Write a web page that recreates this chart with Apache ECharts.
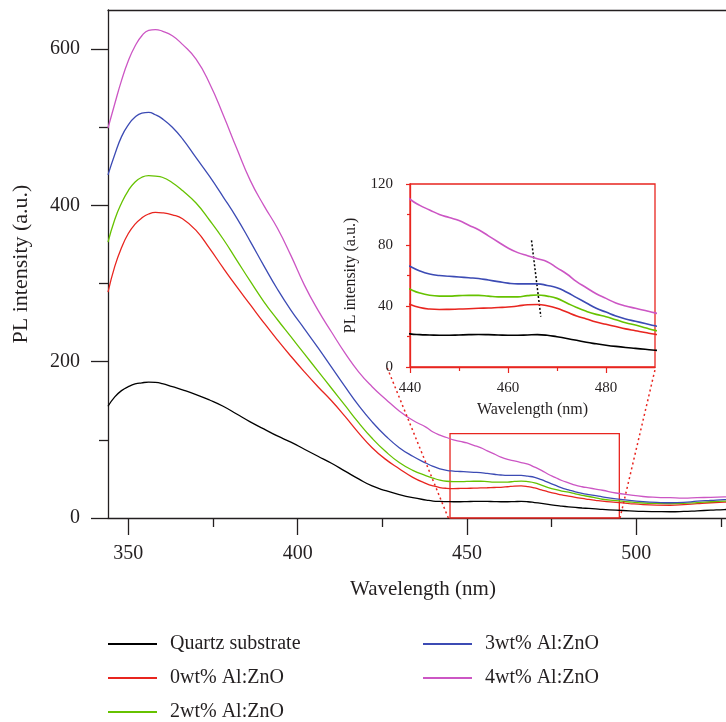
<!DOCTYPE html>
<html><head><meta charset="utf-8">
<script src="https://cdn.jsdelivr.net/npm/echarts@6/dist/echarts.min.js"></script>
<style>html,body{margin:0;padding:0;background:#fff}#c{width:726px;height:722px}</style>
</head><body><div id="c"></div>
<script>
// Wavelength (nm)
const wavelength = [344,346,348,350,352,354,356,358,360,363,366,370,374,378,382,386,390,394,398,402,406,410,414,418,422,426,430,434,438,440,442,444,446,448,450,452,454,456,458,460,462,464,466,468,470,472,474,476,478,480,482,484,486,488,490,494,498,502,506,510,514,518,522,526,530];
const quartz = [143,155,163,168,171.5,173,173.8,173.5,172,168,164,158,151,143,133,123,114,105,97,88,79,70,60,50,41,35,30,26,23,21.7,21.2,21,20.8,20.8,21,21.2,21.3,21.2,21,20.8,20.8,21,21.2,20.8,19.8,18.7,17.5,16.2,15.2,14.3,13.5,12.8,12.2,11.6,11,10,9.2,8.5,8.2,8,8.4,9.2,10,10.8,11.3];
const al0 = [289,322,346,364,376,384,389,391,390.5,388,383,368,345,320,296,273,250,228,207,187,168,150,130,109,90,75,63,52,44,41,39,38,37.7,37.8,38,38.2,38.5,38.7,39,39.3,40,40.8,41,40.2,38.5,36,33.5,31.5,29.5,28,26.5,25,23.8,22.6,21.5,20,18.5,17.2,16.5,16.3,17,18.3,19.5,20.3,21];
const al2 = [353,382,403,419,430,436,438,437.5,436,429,419,403,381,357,330,303,277,254,232,210,188,166,144,122,102,85,71,61,54,51,48.5,47,46.5,46.5,46.8,47,47,46.5,46,46,46,46.8,47.2,46.5,45,42,39,36.5,34.5,33,31,29,27.5,25.8,24,22.3,20.5,19.2,18.6,18.4,18.8,19.8,20.8,21.6,22.2];
const al3 = [439,465,488,503,513,518,519,516,511,500,485,461,437,411,384,354,323,293,266,242,218,193,168,144,123,105,90,79,70,66,63,61,60,59.5,59,58.5,58,57,56,55,54.5,54.5,54.5,53.5,52,49,45.5,42,38.5,36,33.5,31.5,30,28.5,27,24.5,22.5,21,20,19.5,20,21.5,22.5,23.5,24];
const al4 = [499,530,560,585,604,617,624,625,623,617,606,587,556,516,473,432,400,371,336,298,266,238,211,187,168,152,137,125,116,110,106,103,100,98,96,93,90,86,82,78,75,73,71,69,65,61,56,52,48,45,42,40,38.5,37,35.5,32,29.5,27.5,26.5,26,25.5,26,26.5,27,27.5];

const seriesNames = ['Quartz substrate','0wt% Al:ZnO','2wt% Al:ZnO','3wt% Al:ZnO','4wt% Al:ZnO'];
const seriesValues = [quartz, al0, al2, al3, al4];
const seriesColors = ['#000000','#e8251f','#66c200','#3c4bb4','#cc56c4'];

// main axis ticks
const mainXMajor = [350,400,450,500];
const mainXMinor = [375,425,475,525];
const mainYMajor = [0,200,400,600];
const mainYMinor = [100,300,500];
// inset axis ticks
const insetXMajor = [440,460,480];
const insetXMinor = [450,470];
const insetYMajor = [0,40,80,120];
const insetYMinor = [20,60,100];
// zoom box (main coords) and connectors
const zoomBoxX = [445,495];
const zoomBoxY = [0,108];
const connectorLeft = [[444.5,0],[426.4,192.8]];
const connectorRight = [[495.2,0],[505.7,192.8]];
// shift guide in inset
const shiftGuide = [[464.8,83],[466.7,33]];

const FONT = 'Liberation Serif';
const TXT = '#231f20';
const RED = '#e8251f';

const pairs = vals => wavelength.map((w,i)=>[w, vals[i]]);

const chart = echarts.init(document.getElementById('c'));
const series = [];
seriesNames.forEach((n,i)=>{
  const s = {
    name:n, type:'line', xAxisIndex:0, yAxisIndex:0, data:pairs(seriesValues[i]),
    symbol:'none', smooth:0.5, clip:true, lineStyle:{color:seriesColors[i], width:1.3},
    itemStyle:{color:seriesColors[i]}, z:2
  };
  if(i===0){
    s.markArea = {silent:true, itemStyle:{color:'rgba(0,0,0,0)', borderColor:RED, borderWidth:1.3},
      data:[[{coord:[zoomBoxX[0],zoomBoxY[0]]},{coord:[zoomBoxX[1],zoomBoxY[1]]}]]};
    s.markLine = {silent:true, symbol:'none', label:{show:false},
      lineStyle:{color:RED, type:[2,3], width:1.5},
      data:[[{coord:connectorLeft[0]},{coord:connectorLeft[1]}],[{coord:connectorRight[0]},{coord:connectorRight[1]}]]};
  }
  series.push(s);
});
seriesNames.forEach((n,i)=>{
  const s = {
    name:n, type:'line', xAxisIndex:2, yAxisIndex:2, data:pairs(seriesValues[i]),
    symbol:'none', smooth:0.5, clip:true, lineStyle:{color:seriesColors[i], width:1.6},
    itemStyle:{color:seriesColors[i]}, z:8
  };
  if(i===0){
    s.markLine = {silent:true, symbol:'none', label:{show:false},
      lineStyle:{color:'#000', type:[2,2], width:1.5},
      data:[[{coord:shiftGuide[0]},{coord:shiftGuide[1]}]]};
  }
  series.push(s);
});

const lab = (size)=>({fontFamily:FONT, fontSize:size, color:TXT});
const legendCommon = {orient:'vertical', top:634, height:120, padding:0, icon:'rect', itemWidth:49, itemHeight:2, itemGap:14,
  textStyle:{fontFamily:FONT, fontSize:20, color:TXT, lineHeight:20, padding:[0,0,0,8]}};

chart.setOption({
  animation:false,
  backgroundColor:'#fff',
  grid:[
    {left:108, right:0, top:10, bottom:204, show:false},
    {left:410, right:71, top:184, bottom:355, show:true, borderColor:RED, borderWidth:1.3, backgroundColor:'#fff', z:5}
  ],
  legend:[
    Object.assign({data:seriesNames.slice(0,3), left:108}, legendCommon),
    Object.assign({data:seriesNames.slice(3), left:423}, legendCommon)
  ],
  xAxis:[
    {type:'value', gridIndex:0, min:344, max:526.5, name:'Wavelength (nm)', nameLocation:'middle', nameGap:61,
      nameTextStyle:Object.assign(lab(21), {padding:[0,0,0,12]}),
      axisLine:{show:true, onZero:false, lineStyle:{color:TXT, width:1.3}},
      axisTick:{show:true, inside:false, length:17, lineStyle:{color:TXT, width:1.3}, customValues:mainXMajor},
      axisLabel:{show:true, margin:26, customValues:mainXMajor, ...lab(20)},
      splitLine:{show:false}},
    {type:'value', gridIndex:0, min:344, max:526.5, position:'bottom',
      axisLine:{show:false, onZero:false},
      axisTick:{show:true, inside:false, length:9, lineStyle:{color:TXT, width:1.3}, customValues:mainXMinor},
      axisLabel:{show:false}, splitLine:{show:false}},
    {type:'value', gridIndex:1, min:440, max:490, name:'Wavelength (nm)', nameLocation:'middle', nameGap:35,
      nameTextStyle:lab(16), z:6,
      axisLine:{show:true, onZero:false, lineStyle:{color:RED, width:1.3}},
      axisTick:{show:true, inside:false, length:6, lineStyle:{color:RED, width:1.2}, customValues:insetXMajor},
      axisLabel:{show:true, margin:14, customValues:insetXMajor, ...lab(15)},
      splitLine:{show:false}},
    {type:'value', gridIndex:1, min:440, max:490, position:'bottom', z:6,
      axisLine:{show:false, onZero:false},
      axisTick:{show:true, inside:false, length:4, lineStyle:{color:RED, width:1.2}, customValues:insetXMinor},
      axisLabel:{show:false}, splitLine:{show:false}},
    {type:'value', gridIndex:0, min:344, max:526.5, position:'top',
      axisLine:{show:true, onZero:false, lineStyle:{color:TXT, width:1.3}},
      axisTick:{show:false}, axisLabel:{show:false}, splitLine:{show:false}}
  ],
  yAxis:[
    {type:'value', gridIndex:0, min:0, max:650, name:'PL intensity (a.u.)', nameLocation:'middle', nameGap:76,
      nameTextStyle:lab(22),
      axisLine:{show:true, onZero:false, lineStyle:{color:TXT, width:1.3}},
      axisTick:{show:true, inside:false, length:17, lineStyle:{color:TXT, width:1.3}, customValues:mainYMajor},
      axisLabel:{show:true, margin:28, customValues:mainYMajor, ...lab(20)},
      splitLine:{show:false}},
    {type:'value', gridIndex:0, min:0, max:650, position:'left',
      axisLine:{show:false, onZero:false},
      axisTick:{show:true, inside:false, length:9, lineStyle:{color:TXT, width:1.3}, customValues:mainYMinor},
      axisLabel:{show:false}, splitLine:{show:false}},
    {type:'value', gridIndex:1, min:0, max:120, name:'PL intensity (a.u.)', nameLocation:'middle', nameGap:51,
      nameTextStyle:lab(16), z:6,
      axisLine:{show:true, onZero:false, lineStyle:{color:RED, width:1.3}},
      axisTick:{show:true, inside:false, length:4, lineStyle:{color:RED, width:1.2}, customValues:insetYMajor},
      axisLabel:{show:true, margin:17, customValues:insetYMajor, ...lab(15)},
      splitLine:{show:false}},
    {type:'value', gridIndex:1, min:0, max:120, position:'left', z:6,
      axisLine:{show:false, onZero:false},
      axisTick:{show:true, inside:false, length:3, lineStyle:{color:RED, width:1.2}, customValues:insetYMinor},
      axisLabel:{show:false}, splitLine:{show:false}}
  ],
  series: series
});
</script></body></html>
